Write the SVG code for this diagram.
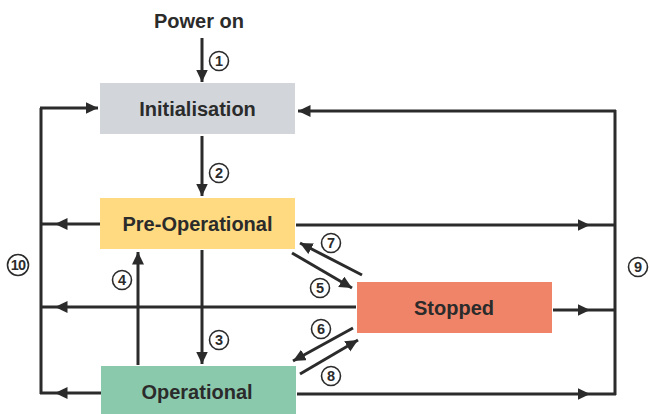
<svg xmlns="http://www.w3.org/2000/svg" width="649" height="414" viewBox="0 0 649 414">
<defs>
<marker id="ah" markerUnits="userSpaceOnUse" markerWidth="15" markerHeight="14" refX="12.5" refY="6" orient="auto">
<path d="M0,0 L12.5,6 L0,12 z" fill="#2b2b2b"/>
</marker>
<style>
.lbl{font-family:"Liberation Sans",Arial,sans-serif;font-weight:bold;font-size:20px;fill:#2b2b2b;text-anchor:middle}
.num{font-family:"Liberation Sans",Arial,sans-serif;font-weight:bold;font-size:14.5px;fill:#2b2b2b;text-anchor:middle}
.nc{fill:#fff;stroke:#2b2b2b;stroke-width:1.6}
.ln{fill:none;stroke:#2b2b2b;stroke-width:3}
.ar{fill:none;stroke:#2b2b2b;stroke-width:3;marker-end:url(#ah)}
.am{fill:none;stroke:#2b2b2b;stroke-width:3;marker-mid:url(#ah)}
</style>
</defs>
<rect width="649" height="414" fill="#fff"/>
<g id="connectors">
<path class="ar" d="M202,38 V82"/>
<path class="ar" d="M202,136 V196"/>
<path class="ar" d="M202,250 V364"/>
<path class="ar" d="M138,365 V252"/>
<path class="ln" d="M41,108 V394"/>
<path class="ar" d="M40,108 H98"/>
<path class="am" d="M100,224 L55,224 L40,224"/>
<path class="am" d="M356,307 L55,307 L40,307"/>
<path class="am" d="M101,393 L55,393 L40,393"/>
<path class="ln" d="M615,110 V395"/>
<path class="ar" d="M616,111 H298"/>
<path class="am" d="M296,225 L590,225 L616,225"/>
<path class="am" d="M553,310 L590,310 L616,310"/>
<path class="am" d="M297,394 L590,394 L616,394"/>
<path class="ar" d="M362,275 L300,243"/>
<path class="ar" d="M292,253 L352,288"/>
<path class="ar" d="M353,328 L293,361"/>
<path class="ar" d="M300,374 L358,340"/>
</g>
<g id="power-on"><text class="lbl" x="199" y="28">Power on</text></g>
<g id="initialisation"><rect x="100" y="83" width="195" height="51" fill="#D2D6DB"/><text class="lbl" x="197.5" y="116">Initialisation</text></g>
<g id="pre-operational"><rect x="100" y="198" width="195" height="51" fill="#FFDA80"/><text class="lbl" x="197.5" y="231">Pre-Operational</text></g>
<g id="operational"><rect x="101" y="366" width="195" height="51" fill="#8BC9AD"/><text class="lbl" x="197" y="399">Operational</text></g>
<g id="stopped"><rect x="357" y="282" width="195" height="51" fill="#F08468"/><text class="lbl" x="454" y="315">Stopped</text></g>
<g id="labels">
<circle class="nc" cx="219" cy="61" r="9.5"/><text class="num" x="219" y="66">1</text>
<circle class="nc" cx="219" cy="173" r="9.5"/><text class="num" x="219" y="178">2</text>
<circle class="nc" cx="219" cy="340" r="9.5"/><text class="num" x="219" y="345">3</text>
<circle class="nc" cx="122" cy="280" r="9.5"/><text class="num" x="122" y="285">4</text>
<circle class="nc" cx="320" cy="288" r="9.5"/><text class="num" x="320" y="293">5</text>
<circle class="nc" cx="321" cy="329" r="9.5"/><text class="num" x="321" y="334">6</text>
<circle class="nc" cx="331" cy="243" r="9.5"/><text class="num" x="331" y="248">7</text>
<circle class="nc" cx="331" cy="376" r="9.5"/><text class="num" x="331" y="381">8</text>
<circle class="nc" cx="638" cy="267" r="9.5"/><text class="num" x="638" y="272">9</text>
<circle class="nc" cx="18" cy="265" r="10.5"/><text class="num" x="18" y="270" style="letter-spacing:-0.8px">10</text>
</g>
</svg>
